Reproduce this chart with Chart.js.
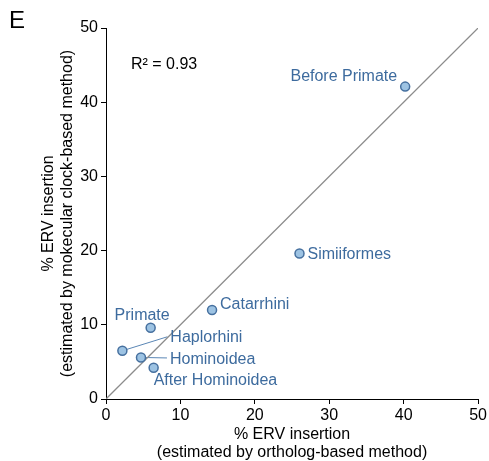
<!DOCTYPE html>
<html>
<head>
<meta charset="utf-8">
<script src="https://cdn.jsdelivr.net/npm/chart.js@4"></script>
<style>
  body { margin: 0; background: #fff; }
  canvas { display: block; }
</style>
</head>
<body>
<canvas id="ervChart" width="489" height="461"></canvas>
<script>
// lineage categories and their % ERV insertion by the two methods
var lineages = ['Before Primate', 'Simiiformes', 'Catarrhini', 'Primate', 'Haplorhini', 'Hominoidea', 'After Hominoidea'];
var orthologPct = [40.2, 26.0, 14.25, 6.0, 2.2, 4.7, 6.4];
var clockPct = [42.1, 19.6, 12.0, 9.6, 6.5, 5.6, 4.2];
var axisTicks = [0, 10, 20, 30, 40, 50];
var identityLine = [0, 50];
var rSquared = '0.93';

var FONT = "'Liberation Sans', Arial, Helvetica, sans-serif";
var BLUE_TEXT = '#3d6b9e';

// where each label sits relative to its point
var labelPlacement = [
    { dx: -8, dy: -10, align: 'right' },
    { dx: 8, dy: 1, align: 'left' },
    { dx: 8, dy: -5, align: 'left' },
    { dx: -8.5, dy: -12, align: 'center' },
    { dx: 48, dy: -13, align: 'left', leader: true },
    { dx: 29, dy: 2.5, align: 'left', leader: true },
    { dx: 0, dy: 12.5, align: 'left' }
];

var points = lineages.map(function (name, i) {
    return { x: orthologPct[i], y: clockPct[i] };
});

var labelPlugin = {
    id: 'pointLabels',
    afterDatasetsDraw: function (chart) {
        var ctx = chart.ctx;
        var xs = chart.scales.x, ys = chart.scales.y;
        ctx.save();
        ctx.font = '16px ' + FONT;
        ctx.textBaseline = 'middle';
        lineages.forEach(function (name, i) {
            var p = labelPlacement[i];
            var px = xs.getPixelForValue(orthologPct[i]);
            var py = ys.getPixelForValue(clockPct[i]);
            ctx.fillStyle = BLUE_TEXT;
            ctx.textAlign = p.align;
            ctx.fillText(name, px + p.dx, py + p.dy);
        });
        ctx.restore();
    },
    beforeDatasetsDraw: function (chart) {
        // leader lines go under the markers
        var ctx = chart.ctx;
        var xs = chart.scales.x, ys = chart.scales.y;
        ctx.save();
        ctx.strokeStyle = '#5a86b5';
        ctx.lineWidth = 1;
        lineages.forEach(function (name, i) {
            var p = labelPlacement[i];
            if (!p.leader) return;
            var px = xs.getPixelForValue(orthologPct[i]);
            var py = ys.getPixelForValue(clockPct[i]);
            ctx.beginPath();
            ctx.moveTo(px, py);
            ctx.lineTo(px + p.dx - 3, py + p.dy + (p.dy < 0 ? -1 : -2));
            ctx.stroke();
        });
        ctx.restore();
    },
    afterDraw: function (chart) {
        var ctx = chart.ctx;
        ctx.save();
        ctx.fillStyle = '#000';
        ctx.textBaseline = 'alphabetic';
        ctx.textAlign = 'left';
        ctx.font = '24px ' + FONT;
        ctx.fillText('E', 9, 28);
        ctx.font = '16px ' + FONT;
        ctx.fillText('R\u00B2 = ' + rSquared, 131, 69);
        ctx.restore();
    }
};

var ctx = document.getElementById('ervChart').getContext('2d');

var ervChart = new Chart(ctx, {
    type: 'scatter',
    data: {
        datasets: [
            {
                label: 'lineages',
                data: points,
                pointRadius: 4.5,
                pointBackgroundColor: '#9dc3e3',
                pointBorderColor: '#46709f',
                pointBorderWidth: 1.5,
                clip: false
            },
            {
                label: 'y = x',
                data: identityLine.map(function (v) { return { x: v, y: v }; }),
                showLine: true,
                pointRadius: 0,
                borderColor: '#8c8c8c',
                borderWidth: 1.3
            }
        ]
    },
    options: {
        responsive: false,
        animation: false,
        layout: {
            padding: { left: 0, top: 28, right: 10, bottom: 0 }
        },
        plugins: {
            legend: { display: false },
            tooltip: { enabled: false }
        },
        scales: {
            x: {
                type: 'linear',
                min: 0,
                max: 50,
                afterBuildTicks: function (scale) {
                    scale.ticks = axisTicks.map(function (v) { return { value: v }; });
                },
                afterFit: function (scale) { scale.height = 62; },
                grid: { drawOnChartArea: false, color: '#000', tickLength: 5 },
                border: { color: '#000', width: 1 },
                ticks: { color: '#000', padding: 2, font: { family: FONT, size: 16 } },
                title: {
                    display: true,
                    text: ['% ERV insertion', '(estimated by ortholog-based method)'],
                    color: '#000',
                    font: { family: FONT, size: 16, lineHeight: 1.1 },
                    padding: 0
                }
            },
            y: {
                type: 'linear',
                min: 0,
                max: 50,
                afterBuildTicks: function (scale) {
                    scale.ticks = axisTicks.map(function (v) { return { value: v }; });
                },
                afterFit: function (scale) { scale.width = 106; },
                grid: { drawOnChartArea: false, color: '#000', tickLength: 5 },
                border: { color: '#000', width: 1 },
                ticks: { color: '#000', padding: 3, font: { family: FONT, size: 16 } },
                title: {
                    display: true,
                    text: ['% ERV insertion', '(estimated by mokecular clock-based method)'],
                    color: '#000',
                    font: { family: FONT, size: 16, lineHeight: 1.2 },
                    padding: { top: 39, bottom: 0 }
                }
            }
        }
    },
    plugins: [labelPlugin]
});
</script>
</body>
</html>
